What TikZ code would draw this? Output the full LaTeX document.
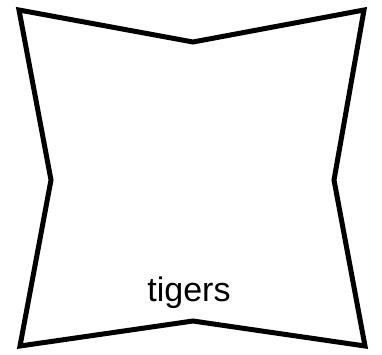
\documentclass[tikz,border=0pt]{standalone}
\usepackage{fontspec}
\setmainfont{Liberation Sans}

\begin{document}
\begin{tikzpicture}[
    x=1pt, y=-1pt,
    outline/.style={draw=black, line width=5pt, line join=miter},
    label/.style={font=\fontsize{34}{40}\selectfont, inner sep=0pt}
]
    \useasboundingbox (0,0) rectangle (382,355);
    % corners of the pinched square
    \coordinate (tl) at (19,10);
    \coordinate (tm) at (193,42);
    \coordinate (tr) at (364,10);
    \coordinate (rm) at (334,180);
    \coordinate (br) at (365,346);
    \coordinate (bm) at (193,321);
    \coordinate (bl) at (20,346);
    \coordinate (lm) at (51,180);
    \draw[outline] (tl) -- (tm) -- (tr) -- (rm) -- (br) -- (bm) -- (bl) -- (lm) -- cycle;

    \node[label] (tigers) at (189,293) {tigers};
\end{tikzpicture}
\end{document}
